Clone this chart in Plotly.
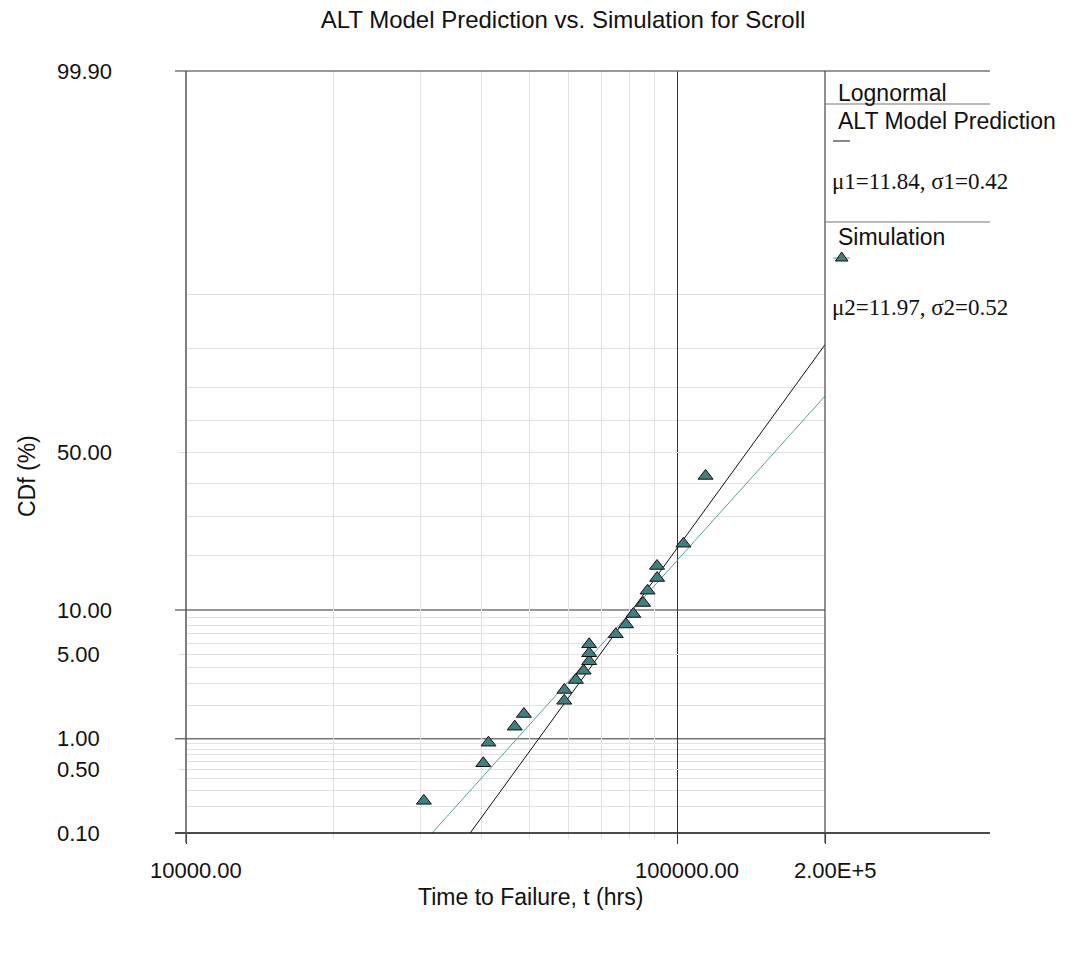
import math
from statistics import NormalDist
import plotly.graph_objects as go

# ---------------- data ----------------
sim_t = [30500, 40300, 41300, 46700, 48750, 58900, 58950, 62200, 64500, 66200,
         66200, 66200, 75000, 78700, 81450, 85250, 87050, 91050, 91000, 103000, 114250]
sim_F = [0.233, 0.579, 0.919, 1.294, 1.68, 2.18, 2.68, 3.22, 3.80, 4.48,
         5.13, 5.94, 6.97, 8.09, 9.44, 11.03, 13.03, 15.34, 17.76, 22.85, 42.3]

alt_line_t = [37900, 200000]      # ALT model prediction line end points
alt_line_F = [0.1, 80.8]
sim_line_t = [31700, 200000]      # simulation fit line end points
sim_line_F = [0.1, 67.5]

x_major = [10000, 100000, 200000]
x_major_text = ["10000.00", "100000.00", "2.00E+5"]
x_minor = [20000, 30000, 40000, 50000, 60000, 70000, 80000, 90000]

y_labels = [99.9, 50, 10, 5, 1, 0.5, 0.1]
y_labels_text = ["99.90", "50.00", "10.00", "5.00", "1.00", "0.50", "0.10"]
y_gray_ticked = [0.5, 5, 50]
y_gray_grid = [0.2, 0.3, 0.4, 0.6, 0.7, 0.8, 0.9, 2, 3, 4, 6, 7, 8, 9,
               20, 30, 40, 60, 70, 80, 90]
y_black = [1, 10]

legend_title = "Lognormal"
series1_name = "ALT Model Prediction"
series1_par = "\u03bc1=11.84, \u03c31=0.42"
series2_name = "Simulation"
series2_par = "\u03bc2=11.97, \u03c32=0.52"

# ---------------- helpers ----------------
nd = NormalDist()


def probit(p):
    return nd.inv_cdf(p / 100.0)


W, H = 1079, 957
L, R, T, B = 186, 825, 71, 833   # plot area in pixels
PW, PH = R - L, B - T


def px(xp):
    return (xp - L) / PW


def py(yp):
    return (B - yp) / PH


SANS = "Liberation Sans, Arial, sans-serif"
SERIF = "Liberation Serif, Times New Roman, serif"
TEAL_FILL = "#3f7f7f"
TEAL_LINE = "#5a9f9f"

fig = go.Figure()

fig.add_trace(go.Scatter(
    x=alt_line_t, y=[probit(v) for v in alt_line_F], mode="lines",
    line=dict(color="#111111", width=1), showlegend=False, hoverinfo="skip"))
fig.add_trace(go.Scatter(
    x=sim_line_t, y=[probit(v) for v in sim_line_F], mode="lines",
    line=dict(color=TEAL_LINE, width=1), showlegend=False, hoverinfo="skip"))
fig.add_trace(go.Scatter(
    x=sim_t, y=[probit(v) for v in sim_F], mode="markers",
    marker=dict(symbol="triangle-up", size=13, color=TEAL_FILL,
                line=dict(color="#111111", width=1)),
    showlegend=False))

ymin, ymax = probit(0.1), probit(99.9)

fig.update_layout(
    width=W, height=H,
    margin=dict(l=L, r=W - R, t=T, b=H - B, pad=0),
    paper_bgcolor="white", plot_bgcolor="white",
    showlegend=False,
    title=dict(text="ALT Model Prediction vs. Simulation for Scroll",
               x=px(563), xref="paper", xanchor="center",
               y=1 - 20 / H, yref="container", yanchor="middle",
               font=dict(family=SANS, size=24, color="#111111")),
    xaxis=dict(type="log", range=[math.log10(10000), math.log10(200000)],
               tickmode="array", tickvals=x_major, showticklabels=False,
               ticks="outside", ticklen=10, tickcolor="#333333",
               showgrid=True, gridcolor="#333333", gridwidth=1,
               showline=False, zeroline=False,
               minor=dict(tickmode="array", tickvals=x_minor, showgrid=True,
                          gridcolor="#e2e2e2", ticks="outside", ticklen=5,
                          tickcolor="#e2e2e2")),
    yaxis=dict(range=[ymin, ymax], tickmode="array",
               tickvals=[probit(v) for v in y_gray_ticked], showticklabels=False,
               ticks="outside", ticklen=7, tickcolor="#dddddd",
               showgrid=True, gridcolor="#e2e2e2", gridwidth=1,
               showline=False, zeroline=False,
               minor=dict(tickmode="array",
                          tickvals=[probit(v) for v in y_gray_grid],
                          showgrid=True, gridcolor="#e2e2e2", ticks="")),
)

shapes = []
xl = px(L - 11)
xr = px(990)
# black horizontal grid lines at 1% and 10%
for v in y_black:
    shapes.append(dict(type="line", xref="paper", yref="y", x0=xl, x1=1,
                       y0=probit(v), y1=probit(v), layer="below",
                       line=dict(color="#333333", width=1)))
# frame
shapes.append(dict(type="line", xref="paper", yref="paper", x0=xl, x1=xr, y0=1, y1=1,
                   line=dict(color="#777777", width=1.5)))
shapes.append(dict(type="line", xref="paper", yref="paper", x0=xl, x1=xr, y0=0, y1=0,
                   line=dict(color="#111111", width=1.5)))
shapes.append(dict(type="line", xref="paper", yref="paper", x0=0, x1=0, y0=py(843), y1=1,
                   line=dict(color="#555555", width=1.5)))
shapes.append(dict(type="line", xref="paper", yref="paper", x0=1, x1=1, y0=py(843), y1=1,
                   line=dict(color="#444444", width=1.2)))
# legend panel separators
for yy in (104, 222):
    shapes.append(dict(type="line", xref="paper", yref="paper", x0=1, x1=xr,
                       y0=py(yy), y1=py(yy), line=dict(color="#777777", width=1.2)))
# legend samples
shapes.append(dict(type="line", xref="paper", yref="paper", x0=px(833), x1=px(850),
                   y0=py(141), y1=py(141), line=dict(color="#111111", width=1)))
shapes.append(dict(type="line", xref="paper", yref="paper", x0=px(833), x1=px(850),
                   y0=py(258), y1=py(258), line=dict(color=TEAL_LINE, width=1)))
shapes.append(dict(type="path", xref="paper", yref="paper",
                   xsizemode="pixel", ysizemode="pixel",
                   xanchor=px(841.7), yanchor=py(258),
                   path="M -6.3,-3 L 6.3,-3 L 0,6 Z",
                   fillcolor=TEAL_FILL, line=dict(color="#111111", width=1)))
fig.update_layout(shapes=shapes)

ann = []
for v, t in zip(x_major, x_major_text):
    ann.append(dict(x=math.log10(v), xref="x", y=py(870), yref="paper", text=t,
                    showarrow=False, xanchor="center", yanchor="middle", xshift=10,
                    font=dict(family=SANS, size=22, color="#111111")))
for v, t in zip(y_labels, y_labels_text):
    ann.append(dict(x=px(55), xref="paper", y=probit(v), yref="y", text=t,
                    showarrow=False, xanchor="left", yanchor="middle",
                    font=dict(family=SANS, size=22, color="#111111")))
ann.append(dict(x=px(530), xref="paper", y=py(897), yref="paper",
                text="Time to Failure, t (hrs)", showarrow=False,
                xanchor="center", yanchor="middle",
                font=dict(family=SANS, size=23, color="#111111")))
ann.append(dict(x=px(27), xref="paper", y=py(476), yref="paper",
                text="CDf (%)", textangle=-90, showarrow=False,
                xanchor="center", yanchor="middle",
                font=dict(family=SANS, size=23, color="#111111")))
for txt, xx, yy, fam in [(legend_title, 836, 93, SANS),
                         (series1_name, 836, 121, SANS),
                         (series1_par, 830, 182, SERIF),
                         (series2_name, 836, 237, SANS),
                         (series2_par, 830, 307, SERIF)]:
    ann.append(dict(x=px(xx), xref="paper", y=py(yy), yref="paper", text=txt,
                    showarrow=False, xanchor="left", yanchor="middle",
                    font=dict(family=fam, size=23, color="#111111")))
fig.update_layout(annotations=ann)

fig.write_html("out.html")
